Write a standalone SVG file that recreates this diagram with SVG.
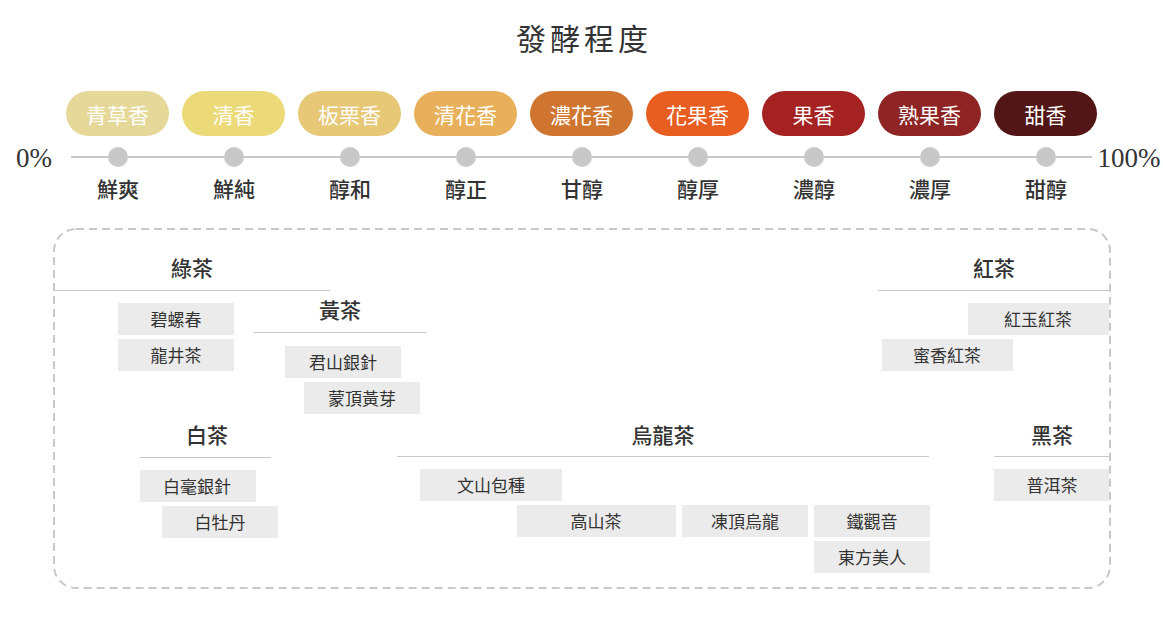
<svg xmlns="http://www.w3.org/2000/svg" width="1163" height="634" viewBox="0 0 1163 634">
<style>
text{font-family:"Noto Sans CJK TC","Noto Sans CJK SC",sans-serif;fill:#333;text-anchor:middle;dominant-baseline:central}
.title{font-size:30px;letter-spacing:4px;font-weight:400}
.pct{font-family:"Liberation Serif",serif;font-size:27px}
.pill .lbl{fill:#fff;font-size:21px;font-weight:400}
.pill .lvl{fill:#333;font-size:21px;font-weight:500}
.dot{fill:#c8c8c8}
.cat{font-size:21px;font-weight:500}
.rule{stroke:#c8c8c8;stroke-width:1.2}
.item rect{fill:#ebebeb}
.item text{font-size:17px}
</style>
<rect width="1163" height="634" fill="#fff"/>
<text class="title" x="584" y="37">發酵程度</text>

<g id="connectors">
<line x1="71" y1="157" x2="1092" y2="157" stroke="#c8c8c8" stroke-width="2"/>
</g>

<text class="pct" x="34" y="158">0%</text>
<text class="pct" x="1129" y="158">100%</text>

<g id="stage1" class="pill"><rect x="66" y="91" width="103" height="45" rx="22.5" fill="#e6d899"/><text class="lbl" x="117.5" y="113.5">青草香</text><circle class="dot" cx="118" cy="157" r="10"/><text class="lvl" x="118" y="188">鮮爽</text></g>
<g id="stage2" class="pill"><rect x="182" y="91" width="103" height="45" rx="22.5" fill="#ecd977"/><text class="lbl" x="233.5" y="113.5">清香</text><circle class="dot" cx="234" cy="157" r="10"/><text class="lvl" x="234" y="188">鮮純</text></g>
<g id="stage3" class="pill"><rect x="298" y="91" width="103" height="45" rx="22.5" fill="#e6c877"/><text class="lbl" x="349.5" y="113.5">板栗香</text><circle class="dot" cx="350" cy="157" r="10"/><text class="lvl" x="350" y="188">醇和</text></g>
<g id="stage4" class="pill"><rect x="414" y="91" width="103" height="45" rx="22.5" fill="#e8b05a"/><text class="lbl" x="465.5" y="113.5">清花香</text><circle class="dot" cx="466" cy="157" r="10"/><text class="lvl" x="466" y="188">醇正</text></g>
<g id="stage5" class="pill"><rect x="530" y="91" width="103" height="45" rx="22.5" fill="#cf7530"/><text class="lbl" x="581.5" y="113.5">濃花香</text><circle class="dot" cx="582" cy="157" r="10"/><text class="lvl" x="582" y="188">甘醇</text></g>
<g id="stage6" class="pill"><rect x="646" y="91" width="103" height="45" rx="22.5" fill="#e85d20"/><text class="lbl" x="697.5" y="113.5">花果香</text><circle class="dot" cx="698" cy="157" r="10"/><text class="lvl" x="698" y="188">醇厚</text></g>
<g id="stage7" class="pill"><rect x="762" y="91" width="103" height="45" rx="22.5" fill="#a52222"/><text class="lbl" x="813.5" y="113.5">果香</text><circle class="dot" cx="814" cy="157" r="10"/><text class="lvl" x="814" y="188">濃醇</text></g>
<g id="stage8" class="pill"><rect x="878" y="91" width="103" height="45" rx="22.5" fill="#8e2424"/><text class="lbl" x="929.5" y="113.5">熟果香</text><circle class="dot" cx="930" cy="157" r="10"/><text class="lvl" x="930" y="188">濃厚</text></g>
<g id="stage9" class="pill"><rect x="994" y="91" width="103" height="45" rx="22.5" fill="#521616"/><text class="lbl" x="1045.5" y="113.5">甜香</text><circle class="dot" cx="1046" cy="157" r="10"/><text class="lvl" x="1046" y="188">甜醇</text></g>

<rect id="frame" x="54" y="229" width="1056" height="359" rx="22" fill="none" stroke="#c8c8c8" stroke-width="2" stroke-dasharray="8 5"/>

<g id="green">
<text class="cat" x="192" y="267">綠茶</text>
<line class="rule" x1="55" y1="290.5" x2="330" y2="290.5"/>
<g class="item"><rect x="118" y="303" width="116" height="32"/><text x="176" y="318.5">碧螺春</text></g>
<g class="item"><rect x="118" y="339" width="116" height="32"/><text x="176" y="354.5">龍井茶</text></g>
</g>

<g id="yellow">
<text class="cat" x="340" y="309">黃茶</text>
<line class="rule" x1="254" y1="332.5" x2="426" y2="332.5"/>
<g class="item"><rect x="285" y="346" width="116" height="32"/><text x="343" y="361.5">君山銀針</text></g>
<g class="item"><rect x="304" y="382" width="116" height="32"/><text x="362" y="397.5">蒙頂黃芽</text></g>
</g>

<g id="red">
<text class="cat" x="994" y="267">紅茶</text>
<line class="rule" x1="878" y1="290.5" x2="1109" y2="290.5"/>
<g class="item"><rect x="968" y="303" width="141" height="32"/><text x="1038" y="318.5">紅玉紅茶</text></g>
<g class="item"><rect x="882" y="339" width="131" height="32"/><text x="947" y="354.5">蜜香紅茶</text></g>
</g>

<g id="white">
<text class="cat" x="207" y="434">白茶</text>
<line class="rule" x1="140" y1="457.5" x2="271" y2="457.5"/>
<g class="item"><rect x="140" y="470" width="116" height="32"/><text x="197" y="485.5">白毫銀針</text></g>
<g class="item"><rect x="162" y="506" width="116" height="32"/><text x="220" y="521.5">白牡丹</text></g>
</g>

<g id="oolong">
<text class="cat" x="663" y="434">烏龍茶</text>
<line class="rule" x1="397" y1="456.5" x2="929" y2="456.5"/>
<g class="item"><rect x="420" y="469" width="142" height="32"/><text x="491" y="484.5">文山包種</text></g>
<g class="item"><rect x="517" y="505" width="159" height="32"/><text x="596" y="520.5">高山茶</text></g>
<g class="item"><rect x="682" y="505" width="126" height="32"/><text x="745" y="520.5">凍頂烏龍</text></g>
<g class="item"><rect x="814" y="505" width="116" height="32"/><text x="872" y="520.5">鐵觀音</text></g>
<g class="item"><rect x="814" y="541" width="116" height="32"/><text x="872" y="556.5">東方美人</text></g>
</g>

<g id="dark">
<text class="cat" x="1052" y="434">黑茶</text>
<line class="rule" x1="994" y1="456.5" x2="1109" y2="456.5"/>
<g class="item"><rect x="994" y="469" width="115" height="32"/><text x="1052" y="484.5">普洱茶</text></g>
</g>
</svg>
